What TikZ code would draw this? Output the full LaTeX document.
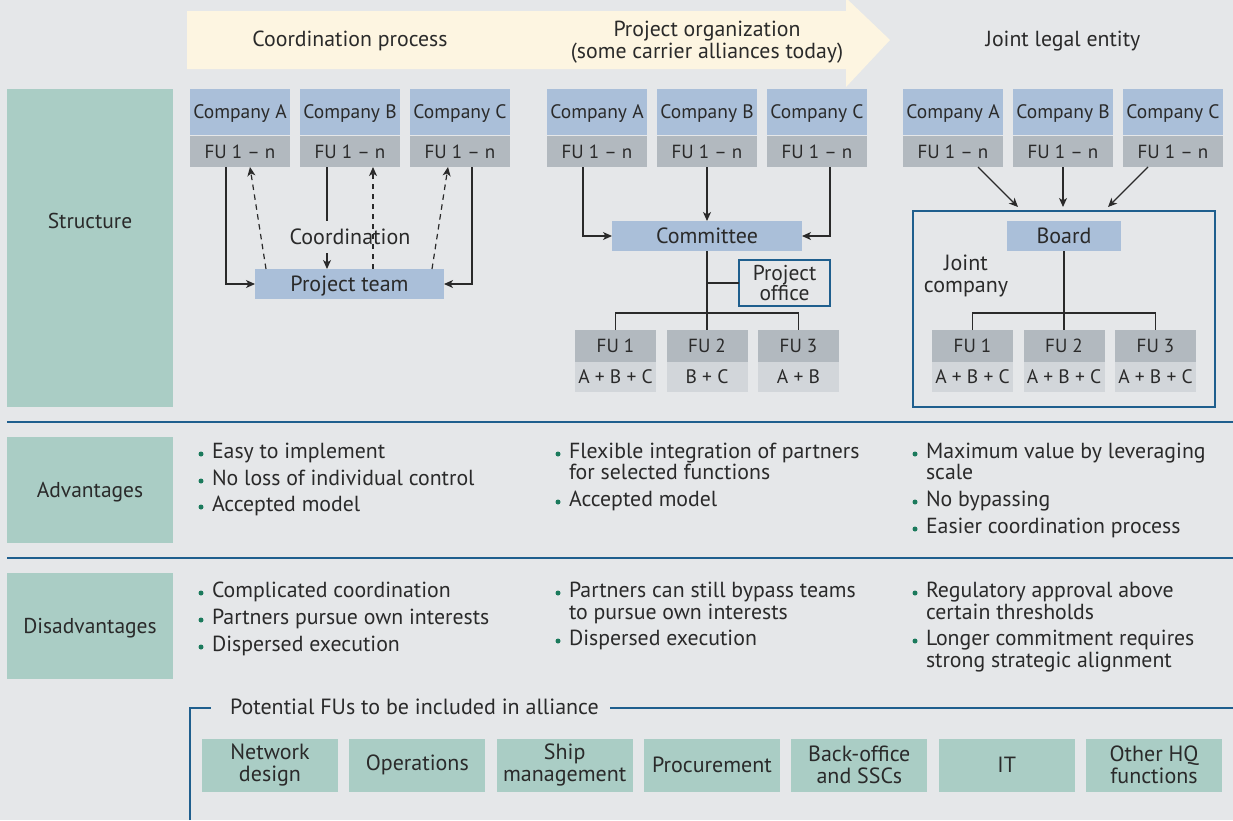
\documentclass[tikz,border=0pt]{standalone}
\usepackage{fontspec}
\setmainfont{PT Sans}
\usetikzlibrary{arrows.meta,calc}
\definecolor{bg}{HTML}{E5E7E9}
\definecolor{cream}{HTML}{FDF5E1}
\definecolor{teal}{HTML}{AACDC5}
\definecolor{bluebox}{HTML}{AABFD9}
\definecolor{grayfu}{HTML}{B2B9BF}
\definecolor{lightfu}{HTML}{D2D6DA}
\definecolor{bline}{HTML}{1F5F8E}
\definecolor{bgreen}{HTML}{1B7A5C}
\definecolor{txt}{HTML}{2A2A2A}
\tikzset{
  base/.style={inner sep=0pt, outer sep=0pt, text=txt, align=center},
  compbox/.style={base, fill=bluebox, minimum width=100pt, minimum height=46pt, text height=14.5pt, text depth=1pt, font=\fontsize{19.5}{21}\selectfont},
  fubox/.style={base, fill=grayfu, minimum width=100pt, minimum height=31pt, text height=14pt, text depth=0.6pt, font=\fontsize{19}{21}\selectfont},
  fusmall/.style={base, fill=grayfu, minimum width=81pt, minimum height=32pt, text height=14pt, text depth=0.6pt, font=\fontsize{19}{21}\selectfont},
  fuval/.style={base, fill=lightfu, minimum width=81pt, minimum height=30pt, text height=14.5pt, text depth=1pt, font=\fontsize{19.5}{21}\selectfont},
  hub/.style={base, fill=bluebox, minimum height=30pt, text height=16pt, text depth=0.6pt, font=\fontsize{22}{22}\selectfont},
  rowlab/.style={base, fill=teal, minimum width=166pt},
  rowtxt/.style={base, text height=15.5pt, text depth=0.5pt, font=\fontsize{21.5}{22}\selectfont},
  bottombox/.style={base, fill=teal, minimum width=136pt, minimum height=53pt, font=\fontsize{22}{21.5}\selectfont},
  banner/.style={base, font=\fontsize{21.8}{22}\selectfont},
  bul/.style={base, anchor=west, text height=16pt, text depth=5pt, font=\fontsize{21.8}{21}\selectfont},
  dot/.style={circle, fill=bgreen, inner sep=0pt, minimum size=5pt},
  conn/.style={draw=txt, line width=1.2pt},
  arr/.style={conn, -{Stealth[length=9pt,width=8pt,inset=2.5pt]}},
  darr/.style={arr, dash pattern=on 5.5pt off 4.5pt},
  sep/.style={draw=bline, line width=1.3pt},
}
\begin{document}
\begin{tikzpicture}[x=1pt,y=-1pt]
\fill[bg] (0,0) rectangle (1233,820);
\useasboundingbox (0,0) rectangle (1233,820);

% banner arrow
\fill[cream] (187,11) -- (846,11) -- (846,-2) -- (890,40) -- (846,87) -- (846,69) -- (187,69) -- cycle;
\node[banner] (h1) at (350,41) {Coordination process};
\node[banner] (h2) at (707,42) {Project organization\\(some carrier alliances today)};
\node[banner] (h3) at (1063,41) {Joint legal entity};

% row labels
\node[rowlab, minimum height=318pt] (lstruct) at (90,248) {};
\node[rowtxt] (tstruct) at (90,221) {Structure};
\node[rowlab, minimum height=106pt, rowtxt] (ladv) at (90,490) {Advantages};
\node[rowlab, minimum height=106pt, rowtxt] (ldis) at (90,626) {Disadvantages};
\coordinate (s1a) at (7,422); \coordinate (s1b) at (1233,422);
\coordinate (s2a) at (7,558); \coordinate (s2b) at (1233,558);
\draw[sep] (s1a) -- (s1b);
\draw[sep] (s2a) -- (s2b);

% ---------- column 1
\node[compbox] (c1a) at (240,112) {Company A};
\node[compbox] (c1b) at (350,112) {Company B};
\node[compbox] (c1c) at (460,112) {Company C};
\node[fubox] (c1fa) at (240,151.5) {FU 1 – n};
\node[fubox] (c1fb) at (350,151.5) {FU 1 – n};
\node[fubox] (c1fc) at (460,151.5) {FU 1 – n};
\node[hub, minimum width=189pt] (pteam) at (349.5,284) {Project team};
\node[base, font=\fontsize{22}{22}\selectfont] (coord) at (350,237) {Coordination};
\draw[arr] ([xshift=-14pt]c1fa.south) |- (pteam.west);
\draw[arr] ([xshift=12pt]c1fc.south) |- (pteam.east);
\coordinate (cb1) at (327,221);
\coordinate (cb2) at (327,253);
\draw[conn] ([xshift=-23pt]c1fb.south) -- (cb1);
\draw[arr] (cb2) -- (cb2 |- pteam.north);
\draw[darr] ([xshift=-83.5pt]pteam.north) -- ([xshift=10pt]c1fa.south);
\draw[darr] ([xshift=23.5pt]pteam.north) -- ([xshift=23pt]c1fb.south);
\draw[darr] ([xshift=82.5pt]pteam.north) -- ([xshift=-12pt]c1fc.south);

% ---------- column 2
\node[compbox] (c2a) at (597,112) {Company A};
\node[compbox] (c2b) at (707,112) {Company B};
\node[compbox] (c2c) at (817,112) {Company C};
\node[fubox] (c2fa) at (597,151.5) {FU 1 – n};
\node[fubox] (c2fb) at (707,151.5) {FU 1 – n};
\node[fubox] (c2fc) at (817,151.5) {FU 1 – n};
\node[hub, minimum width=190pt] (comm) at (707,236) {Committee};
\draw[arr] ([xshift=-14pt]c2fa.south) |- (comm.west);
\draw[arr] (c2fb.south) -- (comm.north);
\draw[arr] ([xshift=13pt]c2fc.south) |- (comm.east);
\node[base, draw=bline, line width=1.2pt, minimum width=91pt, minimum height=46pt, font=\fontsize{21.5}{20}\selectfont] (poff) at (784.5,283) {Project\\office};
\node[fusmall] (c2u1) at (615.5,346) {FU 1};
\node[fusmall] (c2u2) at (707,346) {FU 2};
\node[fusmall] (c2u3) at (798.5,346) {FU 3};
\node[fuval] (c2v1) at (615.5,377) {A + B + C};
\node[fuval] (c2v2) at (707,377) {B + C};
\node[fuval] (c2v3) at (798.5,377) {A + B};
\draw[conn] (comm.south) -- (c2u2.north);
\draw[conn] (poff.west) -- (poff.west -| comm.south);
\draw[conn] (c2u1.north) -- ++(0,-17) -| (c2u3.north);

% ---------- column 3
\node[compbox] (c3a) at (953,112) {Company A};
\node[compbox] (c3b) at (1063,112) {Company B};
\node[compbox] (c3c) at (1173,112) {Company C};
\node[fubox] (c3fa) at (953,151.5) {FU 1 – n};
\node[fubox] (c3fb) at (1063,151.5) {FU 1 – n};
\node[fubox] (c3fc) at (1173,151.5) {FU 1 – n};
\node[base, draw=bline, line width=1.2pt, minimum width=302pt, minimum height=196pt] (jbox) at (1064,309) {};
\node[hub, minimum width=114pt] (board) at (1064,236) {Board};
\node[base, font=\fontsize{22}{22}\selectfont] (jc) at (966,276) {Joint\\company};
\draw[arr] ([xshift=25pt]c3fa.south) -- ([xshift=-46pt,yshift=4pt]jbox.north);
\draw[arr] (c3fb.south) -- ([xshift=-1pt,yshift=4pt]jbox.north);
\draw[arr] ([xshift=-25pt]c3fc.south) -- ([xshift=44pt,yshift=4pt]jbox.north);
\node[fusmall] (c3u1) at (972.5,346) {FU 1};
\node[fusmall] (c3u2) at (1064,346) {FU 2};
\node[fusmall] (c3u3) at (1155.5,346) {FU 3};
\node[fuval] (c3v1) at (972.5,377) {A + B + C};
\node[fuval] (c3v2) at (1064,377) {A + B + C};
\node[fuval] (c3v3) at (1155.5,377) {A + B + C};
\draw[conn] (board.south) -- (c3u2.north);
\draw[conn] (c3u1.north) -- ++(0,-17) -| (c3u3.north);

% ---------- advantages
\node[dot] (d11) at (201,454) {}; \node[bul] (a11) at (212,453) {Easy to implement};
\node[dot] (d12) at (201,481) {}; \node[bul] (a12) at (212,480) {No loss of individual control};
\node[dot] (d13) at (201,507) {}; \node[bul] (a13) at (212,506) {Accepted model};
\node[dot] (d21) at (558,454) {}; \node[bul] (a21) at (569,453) {Flexible integration of partners};
\node[bul] (a22) at (569,474) {for selected functions};
\node[dot] (d23) at (558,502) {}; \node[bul] (a23) at (569,501) {Accepted model};
\node[dot] (d31) at (915,454) {}; \node[bul] (a31) at (926,453) {Maximum value by leveraging};
\node[bul] (a32) at (926,474) {scale};
\node[dot] (d33) at (915,502) {}; \node[bul] (a33) at (926,501) {No bypassing};
\node[dot] (d34) at (915,529) {}; \node[bul] (a34) at (926,528) {Easier coordination process};

% ---------- disadvantages
\node[dot] (e11) at (201,593) {}; \node[bul] (b11) at (212,592) {Complicated coordination};
\node[dot] (e12) at (201,620) {}; \node[bul] (b12) at (212,619) {Partners pursue own interests};
\node[dot] (e13) at (201,647) {}; \node[bul] (b13) at (212,646) {Dispersed execution};
\node[dot] (e21) at (558,593) {}; \node[bul] (b21) at (569,592) {Partners can still bypass teams};
\node[bul] (b22) at (569,614) {to pursue own interests};
\node[dot] (e23) at (558,641) {}; \node[bul] (b23) at (569,640) {Dispersed execution};
\node[dot] (e31) at (915,593) {}; \node[bul] (b31) at (926,592) {Regulatory approval above};
\node[bul] (b32) at (926,614) {certain thresholds};
\node[dot] (e33) at (915,641) {}; \node[bul] (b33) at (926,640) {Longer commitment requires};
\node[bul] (b34) at (926,662) {strong strategic alignment};

% ---------- bottom
\node[base, anchor=west, font=\fontsize{22}{21}\selectfont] (pot) at (230,707) {Potential FUs to be included in alliance};
\coordinate (f1) at (190,820); \coordinate (f2) at (190,708); \coordinate (f3) at (211,708);
\coordinate (f4) at (610,708); \coordinate (f5) at (1233,708);
\draw[draw=bline, line width=1.2pt] (f1) -- (f2) -- (f3);
\draw[draw=bline, line width=1.2pt] (f4) -- (f5);
\node[bottombox] (p1) at (270,765) {Network\\design};
\node[bottombox] (p2) at (417.3,765) {Operations};
\node[bottombox] (p3) at (564.7,765) {Ship\\management};
\node[bottombox] (p4) at (712,765) {Procurement};
\node[bottombox] (p5) at (859.3,765) {Back-office\\and SSCs};
\node[bottombox] (p6) at (1006.7,765) {IT};
\node[bottombox] (p7) at (1154,765) {Other HQ\\functions};
\end{tikzpicture}
\end{document}
